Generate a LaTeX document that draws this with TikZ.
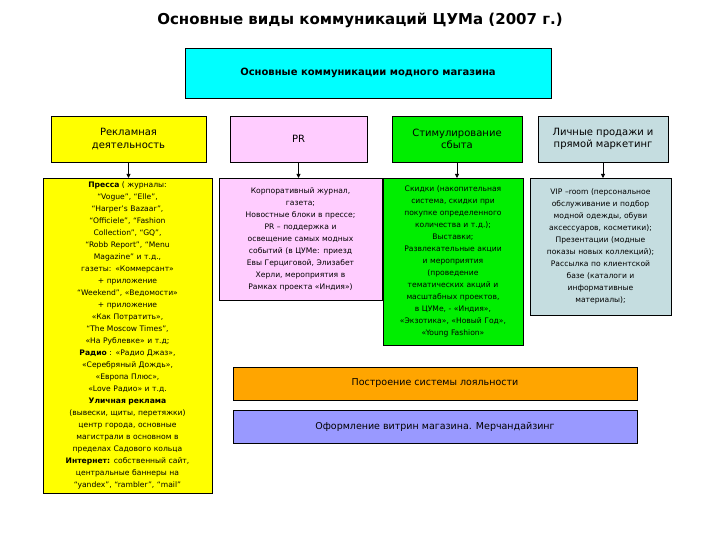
\documentclass[tikz,border=0pt]{standalone}
\usepackage{fontspec}
\setmainfont{DejaVu Sans}
\usetikzlibrary{arrows.meta}
\definecolor{cy}{HTML}{00FFFF}
\definecolor{ye}{HTML}{FFFF00}
\definecolor{pk}{HTML}{FFCCFF}
\definecolor{gr}{HTML}{00EE00}
\definecolor{bl}{HTML}{C5DDE0}
\definecolor{orng}{HTML}{FFA500}
\definecolor{lav}{HTML}{9999FF}
\tikzset{
 bx/.style={draw=black, line width=0.8pt, inner sep=1pt, align=center},
 cat/.style={bx, font=\fontsize{10}{12.5}\selectfont, minimum height=46pt},
 det/.style={bx, font=\fontsize{7.6}{12}\selectfont, anchor=north, inner sep=0.5pt},
 arr/.style={-{Triangle[length=4pt,width=4pt]}, line width=0.8pt},
}
\begin{document}
\begin{tikzpicture}[x=1pt,y=-1pt]
\useasboundingbox (0,0) rectangle (720,540);
\node (title) at (360,20) {\fontsize{15}{18}\selectfont\bfseries Основные виды коммуникаций ЦУМа (2007 г.)};
\node[bx, fill=cy, minimum width=366pt, minimum height=50pt, font=\fontsize{10}{12}\selectfont\bfseries] (top) at (368,73) {Основные коммуникации модного магазина};
\node[cat, fill=ye, minimum width=155pt] (c1) at (128.5,139) {Рекламная\\деятельность};
\node[cat, fill=pk, minimum width=137pt] (c2) at (298.5,139) {PR};
\node[cat, fill=gr, minimum width=130pt] (c3) at (457,139) {Стимулирование\\сбыта};
\node[cat, fill=bl, minimum width=130pt] (c4) at (603,139) {Личные продажи и\\прямой маркетинг};
\node[det, fill=ye, text width=168pt, minimum height=315pt] (d1) at (127.5,178) {\textbf{Пресса} ( журналы:\\“Vogue”, “Elle”,\\“Harper’s Bazaar”,\\“Officiele”, “Fashion\\Collection”, “GQ”,\\“Robb Report”, “Menu\\Magazine” и т.д.,\\газеты: «Коммерсант»\\+ приложение\\“Weekend”, «Ведомости»\\+ приложение\\«Как Потратить»,\\“The Moscow Times”,\\«На Рублевке» и т.д;\\\textbf{Радио} : «Радио Джаз»,\\«Серебряный Дождь»,\\«Европа Плюс»,\\«Love Радио» и т.д.\\\textbf{Уличная реклама}\\(вывески, щиты, перетяжки)\\центр города, основные\\магистрали в основном в\\пределах Садового кольца\\\textbf{Интернет:} собственный сайт,\\центральные баннеры на\\“yandex”, “rambler”, “mail”};
\node[det, fill=pk, text width=162pt, minimum height=122pt] (d2) at (300.5,178) {Корпоративный журнал,\\газета;\\Новостные блоки в прессе;\\PR – поддержка и\\освещение самых модных\\событий (в ЦУМе: приезд\\Евы Герциговой, Элизабет\\Херли, мероприятия в\\Рамках проекта «Индия»)};
\node[det, fill=gr, text width=139pt, minimum height=167pt] (d3) at (453,178) {Скидки (накопительная\\система, скидки при\\покупке определенного\\количества и т.д.);\\Выставки;\\Развлекательные акции\\и мероприятия\\(проведение\\тематических акций и\\масштабных проектов,\\в ЦУМе, - «Индия»,\\«Экзотика», «Новый Год»,\\«Young Fashion»};
\node[det, fill=bl, text width=140pt, minimum height=137pt] (d4) at (600.5,178) {VIP –room (персональное\\обслуживание и подбор\\модной одежды, обуви\\аксессуаров, косметики);\\Презентации (модные\\показы новых коллекций);\\Рассылка по клиентской\\базе (каталоги и\\информативные\\материалы);};
\node[bx, fill=orng, minimum width=404pt, minimum height=33pt, font=\fontsize{9.5}{11}\selectfont] (loy) at (435,383.5) {Построение системы лояльности};
\node[bx, fill=lav, minimum width=404pt, minimum height=33pt, font=\fontsize{9.5}{11}\selectfont] (merch) at (435,426.5) {Оформление витрин магазина. Мерчандайзинг};
\foreach \i in {1,2,3,4} \draw[arr] (c\i.south) -- (c\i.south |- d\i.north);
\end{tikzpicture}
\end{document}
